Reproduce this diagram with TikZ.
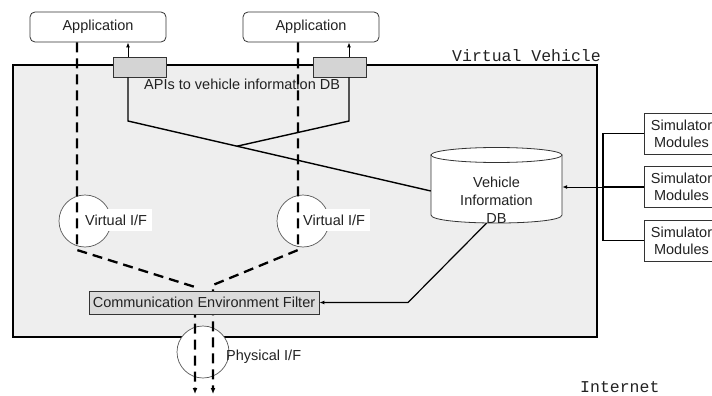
\documentclass[tikz,border=0pt]{standalone}
\usepackage{fontspec}
\setmainfont{Liberation Sans}
\newfontfamily\monof{Liberation Mono}
\usetikzlibrary{arrows.meta,calc}
\definecolor{boxgray}{HTML}{EEEEEE}
\definecolor{apigray}{HTML}{D4D4D4}
\definecolor{txtgray}{HTML}{222222}
\begin{document}
\begin{tikzpicture}[x=1pt,y=-1pt,
  font=\fontsize{14.5}{17}\selectfont, text=txtgray,
  appbox/.style={draw=black!80, rounded corners=5pt, fill=white, minimum width=136, minimum height=30, inner sep=0pt, line width=0.8pt},
  apibox/.style={draw=black!80, fill=apigray, minimum width=53, minimum height=20, inner sep=0pt, line width=0.8pt},
  vbox/.style={draw=black, line width=2pt, fill=boxgray, minimum width=584, minimum height=272, inner sep=0pt},
  ifcircle/.style={circle, draw=black!65, fill=white, minimum size=52, inner sep=0pt, line width=0.7pt},
  iflabel/.style={fill=white, inner xsep=5pt, inner ysep=6pt, anchor=west},
  filterbox/.style={draw=black!80, fill=black!14, minimum width=230, minimum height=23, inner sep=0pt, line width=0.8pt},
  simbox/.style={draw=black!80, fill=white, minimum width=75, minimum height=41, inner sep=0pt, align=center, line width=0.8pt},
  dashline/.style={line width=2.3pt, dash pattern=on 10pt off 6pt, -{Latex[length=6pt,width=5pt]}},
  solidline/.style={line width=1.4pt},
  thinarrow/.style={line width=1pt, -{Latex[length=5pt,width=4pt]}},
  monotext/.style={font=\monof\fontsize{16.5}{18}\selectfont, inner sep=0pt, anchor=base west}
]
\useasboundingbox (0,0) rectangle (712,396);

% main Virtual Vehicle box
\node[vbox] (vv) at (305,201) {};
\node[monotext] (vvt) at (452,62) {Virtual Vehicle};

% applications
\node[appbox] (app1) at (98,27) {Application};
\node[appbox] (app2) at (311,27) {Application};

% API boxes
\node[apibox] (api1) at (139.5,67) {};
\node[apibox] (api2) at (339.5,67) {};
\node[anchor=base west, inner sep=0pt] (apit) at (144,89.5) {APIs to vehicle information DB};

% physical interface circle
\node[ifcircle] (pc) at (203,352) {};
\node[anchor=west, inner sep=0pt] (pl) at (226,357) {Physical I/F};

% virtual interfaces
\node[ifcircle] (vc1) at (85,221) {};
\node[iflabel] (vl1) at (80,220) {Virtual I/F};
\node[ifcircle] (vc2) at (303,221) {};
\node[iflabel] (vl2) at (298,220) {Virtual I/F};

% dashed communication paths
\coordinate (d1) at (77,250);
\coordinate (d1b) at (195,287);
\coordinate (d1c) at (195,394);
\coordinate (d2) at (298,250);
\coordinate (d2b) at (213,285);
\coordinate (d2c) at (213,394);
\draw[dashline] (app1.south -| d1) -- (d1) -- (d1b) -- (d1c);
\draw[dashline] (app2.south -| d2) -- (d2) -- (d2b) -- (d2c);

% filter
\node[filterbox] (filter) at (204,302.5) {Communication Environment Filter};

% DB cylinder
\node[minimum width=131, minimum height=75, inner sep=0pt] (db) at (496.5,185.5) {};
\path[draw=black!80, fill=white, line width=0.8pt] (431,155) -- (431,215) .. controls (431,225.7) and (562,225.7) .. (562,215) -- (562,155) -- cycle;
\draw[draw=black!80, fill=white, line width=0.8pt] (496.5,155) ellipse [x radius=65.5, y radius=7.5];
\node[align=center, font=\fontsize{14.5}{18}\selectfont] (dbt) at (496.5,200) {Vehicle\\Information\\DB};

% API lines
\coordinate (p1) at (128,121);
\coordinate (p2) at (349,121);
\coordinate (dbl) at ($(db.west)+(0,5.5)$);
\draw[solidline] (api1.south -| p1) -- (p1) -- (dbl);
\draw[solidline] (api2.south -| p2) -- (p2) -- ($(p1)!0.36!(dbl)$);
\draw[thinarrow] (api1.north -| p1) -- (app1.south -| p1);
\draw[thinarrow] (api2.north -| p2) -- (app2.south -| p2);

% DB to filter
\coordinate (k) at (408,302.5);
\draw[thinarrow, line width=1.2pt] ($(db.south)+(-10,0)$) -- (k) -- (filter.east);

% simulator modules
\node[simbox] (sim1) at (681.5,133.5) {Simulator\\Modules};
\node[simbox] (sim2) at (681.5,187) {Simulator\\Modules};
\node[simbox] (sim3) at (681.5,240.5) {Simulator\\Modules};
\coordinate (b1) at (603,133.5);
\coordinate (b2) at (603,187);
\coordinate (b3) at (603,240.5);
\draw[solidline] (sim1.west) -- (b1) -- (b3) -- (sim3.west);
\draw[solidline] (sim2.west) -- (b2);
\draw[thinarrow] (b2) -- (db.east |- b2);

\node[monotext] (inet) at (580,392) {Internet};
\end{tikzpicture}
\end{document}
